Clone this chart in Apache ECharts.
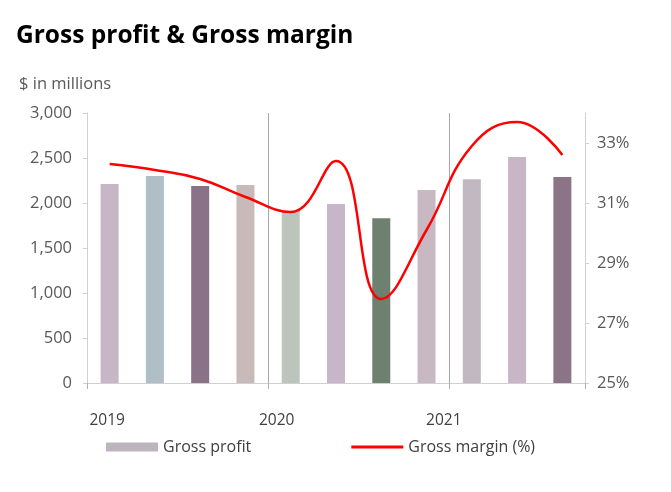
<!DOCTYPE html>
<html><head><meta charset="utf-8">
<script src="https://cdn.jsdelivr.net/npm/echarts@6/dist/echarts.min.js"></script>
<style>html,body{margin:0;padding:0;background:#fff}#c{width:671px;height:492px}</style>
</head><body><div id="c"></div>
<script>
const quarters = ['Q1 2019','Q2 2019','Q3 2019','Q4 2019','Q1 2020','Q2 2020','Q3 2020','Q4 2020','Q1 2021','Q2 2021','Q3 2021'];
const yearLabels = ['2019','','','','2020','','','','2021','',''];
const grossProfit = [2210, 2300, 2190, 2200, 1910, 1990, 1830, 2145, 2265, 2510, 2290];
const grossMargin = [32.3, 32.1, 31.8, 31.2, 30.7, 32.4, 27.8, 30.1, 32.9, 33.7, 32.6];
const barColors = ['#c6b6c6','#b0bec8','#8a7288','#c8bab8','#bcc4bc','#c6b6c8','#6e806f','#c8b8c2','#c2b8c2','#c8b6c6','#8a7486'];
const leftTicks = {min:0, max:3000, interval:500};
const rightTicks = {min:25, max:34, interval:2};

const font = "'Open Sans', 'Noto Sans', sans-serif";
const chart = echarts.init(document.getElementById('c'), null, {renderer:'canvas'});
chart.setOption({
  animation:false,
  backgroundColor:'#fff',
  textStyle:{fontFamily:font},
  title:[
    {text:'Gross profit & Gross margin', left:16, top:24, padding:0,
     textStyle:{fontFamily:font, fontSize:24.5, fontWeight:'bold', color:'#000'}},
    {text:'$ in millions', left:19, top:76, padding:0,
     textStyle:{fontFamily:font, fontSize:16.5, fontWeight:'normal', color:'#595959'}}
  ],
  legend:{
    left:106, top:439, padding:0, itemGap:100, itemWidth:52, itemHeight:9,
    textStyle:{fontFamily:font, fontSize:16, color:'#404040'},
    data:[
      {name:'Gross profit', icon:'rect', itemStyle:{color:'#bdb5bd'}},
      {name:'Gross margin (%)', icon:'path://M0,0 L52,0 L52,3 L0,3 Z', itemStyle:{color:'#ff0000'}}
    ]
  },
  grid:{left:87, right:86, top:113, bottom:109, containLabel:false},
  xAxis:{
    type:'category', data:quarters, boundaryGap:true,
    axisLine:{lineStyle:{color:'#d0d0d0', width:1}},
    axisTick:{show:true, length:6, interval:(i)=>i%4===0, lineStyle:{color:'#b0b0b0'}},
    splitLine:{show:true, interval:(i)=>i===4||i===8, lineStyle:{color:'#a8a8a8', width:1}},
    axisLabel:{
      interval:0, margin:30, color:'#404040', fontSize:15.5, fontFamily:font,
      formatter:(v,i)=>{
        const y = yearLabels[i];
        if(!y) return '';
        if(i===0) return '{a|'+y+'}';
        if(i===4) return '{b|'+y+'}';
        return '{c|'+y+'}';
      },
      rich:{
        a:{fontSize:15.5, color:'#404040', fontFamily:font, padding:[0,5,0,0]},
        b:{fontSize:15.5, color:'#404040', fontFamily:font, padding:[0,28,0,0]},
        c:{fontSize:15.5, color:'#404040', fontFamily:font, padding:[0,56,0,0]}
      }
    }
  },
  yAxis:[
    {type:'value', min:leftTicks.min, max:leftTicks.max, interval:leftTicks.interval,
     axisLine:{show:true, lineStyle:{color:'#d0d0d0'}},
     axisTick:{show:true, length:4, lineStyle:{color:'#d0d0d0'}},
     splitLine:{show:false},
     axisLabel:{margin:15, color:'#595959', fontSize:16.5, fontFamily:font,
       formatter:(v)=>v.toLocaleString('en-US')}},
    {type:'value', min:rightTicks.min, max:rightTicks.max, interval:rightTicks.interval,
     position:'right',
     axisLine:{show:true, lineStyle:{color:'#d0d0d0'}},
     axisTick:{show:true, length:4, lineStyle:{color:'#d0d0d0'}},
     splitLine:{show:false},
     axisLabel:{margin:12, color:'#595959', fontSize:16.5, fontFamily:font, showMaxLabel:false,
       formatter:(v)=>v+'%'}}
  ],
  series:[
    {name:'Gross profit', type:'bar', yAxisIndex:0, barWidth:18,
     data:grossProfit.map((v,i)=>({value:v, itemStyle:{color:barColors[i]}})),
     itemStyle:{color:'#bdb5bd'}},
    {name:'Gross margin (%)', type:'line', yAxisIndex:1, data:grossMargin,
     smooth:0.45, symbol:'none', lineStyle:{color:'#ff0000', width:2.5}, itemStyle:{color:'#ff0000'}}
  ]
});
</script></body></html>
